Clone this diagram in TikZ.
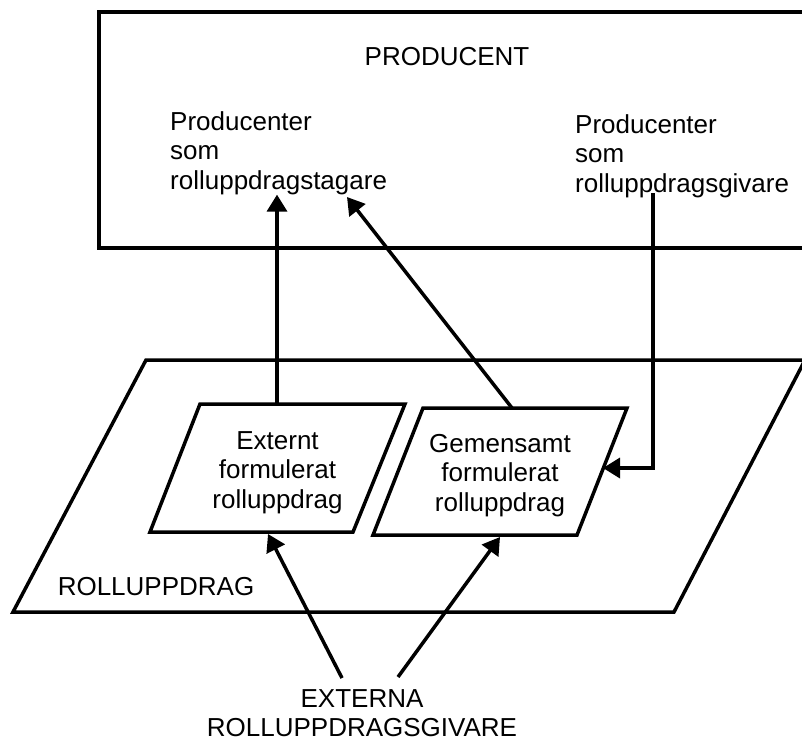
\documentclass[tikz,border=0pt]{standalone}
\usepackage{fontspec}
\setmainfont{Liberation Sans}
\usetikzlibrary{arrows.meta}
\begin{document}
\begin{tikzpicture}[x=1pt,y=-1pt,
  frame/.style={line width=3.5pt, line join=miter},
  conn/.style={line width=3.5pt, -{Triangle[length=17pt,width=20pt]}},
  lbl/.style={inner sep=0pt, font=\fontsize{26}{29.5}\selectfont}]
\useasboundingbox (0,0) rectangle (802,742);
\fill[white] (0,0) rectangle (802,742);
\clip (0,0) rectangle (802,742);

% producer box
\draw[frame] (99,12) rectangle (830,248);
\node[lbl, anchor=base] (prod) at (447,65) {PRODUCENT};
\node[lbl, anchor=north west, align=left] (taker) at (170,111)
  {Producenter\\som\\rolluppdragstagare};
\node[lbl, anchor=north west, align=left] (giver) at (575,114)
  {Producenter\\som\\rolluppdragsgivare};

% role assignment plane
\draw[frame] (146,360) -- (805,360) -- (674,612) -- (13,612) -- cycle;
\node[lbl, anchor=base] (roll) at (156,595) {ROLLUPPDRAG};

% the two kinds of role assignment
\coordinate (eTL) at (200,404); \coordinate (eTR) at (405,404);
\coordinate (eBR) at (353,532); \coordinate (eBL) at (150,532);
\draw[frame] (eTL) -- (eTR) -- (eBR) -- (eBL) -- cycle;
\node[lbl, anchor=north, align=center] (ext) at (277.5,431)
  {Externt\\formulerat\\rolluppdrag};

\coordinate (gTL) at (423,408); \coordinate (gTR) at (627,408);
\coordinate (gBR) at (577,535); \coordinate (gBL) at (373,535);
\draw[frame] (gTL) -- (gTR) -- (gBR) -- (gBL) -- cycle;
\node[lbl, anchor=north, align=center] (gem) at (500,434)
  {Gemensamt\\formulerat\\rolluppdrag};

% external givers
\node[lbl, anchor=north, align=center] (givers) at (362,689)
  {EXTERNA\\ROLLUPPDRAGSGIVARE};

% connector end points
\coordinate (extTop) at (277,404);
\coordinate (gemTop) at (512,408);
\coordinate (takerTip) at (347,197);
\coordinate (giverFoot) at (653,193);
\coordinate (gemSide) at (603,468);
\coordinate (extBot) at (268,534);
\coordinate (gemBot) at (500,537);
\coordinate (giversL) at (342,678);
\coordinate (giversR) at (398,677);

\draw[conn] (extTop) -- (extTop |- taker.south);
\draw[conn] (gemTop) -- (takerTip);
\draw[conn] (giverFoot) |- (gemSide);
\draw[conn] (giversL) -- (extBot);
\draw[conn] (giversR) -- (gemBot);
\end{tikzpicture}
\end{document}
